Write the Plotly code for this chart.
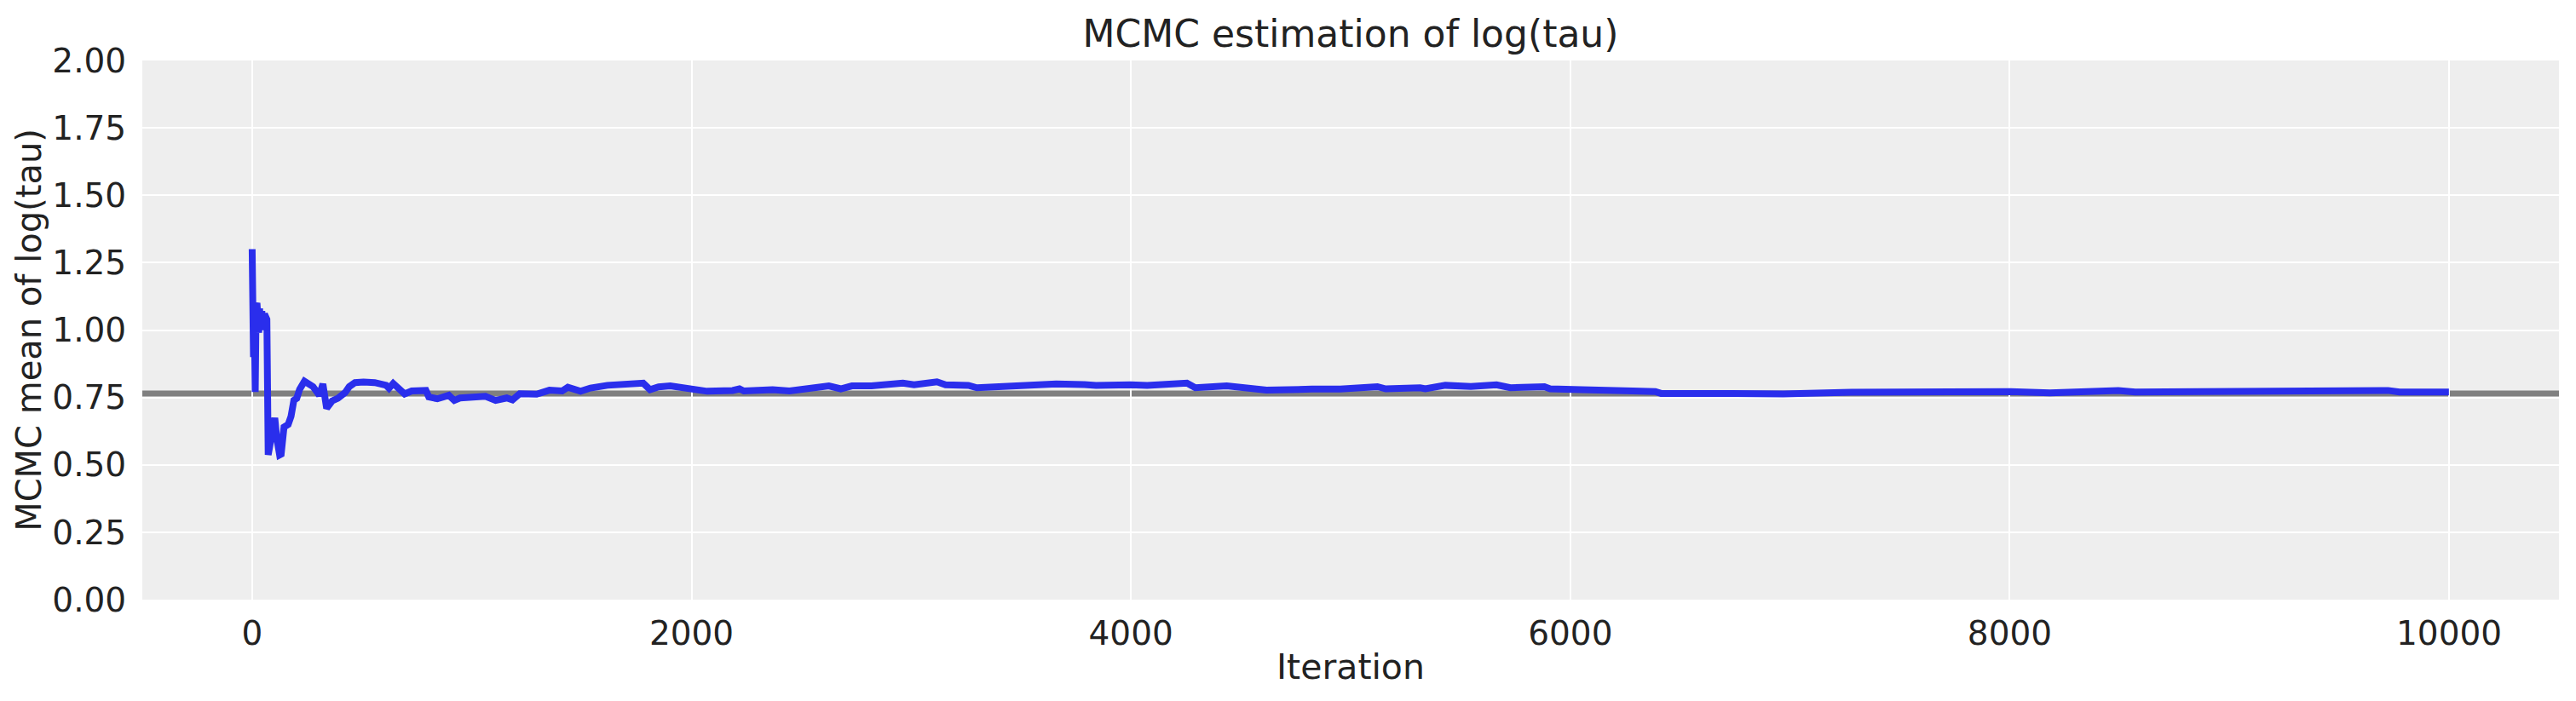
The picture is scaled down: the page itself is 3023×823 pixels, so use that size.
import plotly.graph_objects as go

# Running MCMC mean of log(tau)
iterations = [0, 2, 4, 6, 9, 14, 18, 22, 26, 30, 34, 38, 44, 50, 56, 62, 67,
              73, 80, 87, 96, 103, 112, 125, 132, 145, 164, 177, 190, 203, 216,
              238, 261, 277, 306, 322, 339, 364, 390, 423, 442, 468, 507, 558,
              610, 623, 642, 662, 694, 726, 791, 804, 843, 895, 920, 946,
              1062, 1108, 1159, 1185, 1218, 1295, 1353, 1411, 1437, 1495, 1540,
              1617, 1722, 1780, 1811, 1850, 1903, 1981, 2020, 2071, 2187, 2218,
              2238, 2369, 2446, 2536, 2625, 2679, 2730, 2819, 2885, 2962, 3013,
              3117, 3156, 3260, 3299, 3428, 3531, 3660, 3788, 3841, 3997, 4074,
              4255, 4293, 4436, 4475, 4552, 4617, 4824, 4953, 5122, 5160, 5316,
              5340, 5431, 5547, 5664, 5727, 5882, 5908, 6051, 6154, 6283, 6387,
              6413, 6634, 6762, 6969, 7279, 7460, 7693, 8003, 8183, 8494, 8571,
              8701, 9115, 9425, 9580, 9722, 9774, 9999]
running_mean = [1.30, 0.92, 1.12, 0.90, 1.08, 0.77, 1.09, 1.10, 1.05, 0.99, 1.08,
                1.00, 1.07, 1.00, 1.06, 1.04, 1.04,
                0.537, 0.58, 0.62, 0.66, 0.674, 0.60, 0.537, 0.54, 0.64, 0.65,
                0.68, 0.74, 0.747, 0.78, 0.81, 0.80, 0.79, 0.758, 0.80, 0.71,
                0.737, 0.747, 0.768, 0.79, 0.805, 0.807, 0.805, 0.795, 0.784,
                0.802, 0.79, 0.763, 0.774, 0.776, 0.752, 0.745, 0.758, 0.739,
                0.748,
                0.754, 0.739, 0.748, 0.741, 0.764, 0.762, 0.777, 0.774, 0.788,
                0.773, 0.785, 0.795, 0.797, 0.803, 0.779, 0.789, 0.793, 0.786,
                0.777, 0.773, 0.776, 0.782, 0.774, 0.779, 0.774, 0.786, 0.793,
                0.782, 0.793, 0.793, 0.800, 0.803, 0.797, 0.808, 0.797, 0.795,
                0.786, 0.791, 0.800, 0.800, 0.798, 0.795, 0.797, 0.795, 0.803,
                0.786, 0.793, 0.790, 0.779, 0.777, 0.781, 0.781, 0.790, 0.782,
                0.786, 0.782, 0.795, 0.791, 0.797, 0.786, 0.790, 0.782, 0.779,
                0.774, 0.774, 0.772, 0.765, 0.765, 0.764, 0.763, 0.769, 0.770,
                0.774, 0.772, 0.767, 0.776, 0.770, 0.771, 0.776, 0.772, 0.776,
                0.776, 0.770, 0.770]
reference_value = 0.765

x_ticks = [0, 2000, 4000, 6000, 8000, 10000]
x_tick_labels = ["0", "2000", "4000", "6000", "8000", "10000"]
y_ticks = [0.0, 0.25, 0.5, 0.75, 1.0, 1.25, 1.5, 1.75, 2.0]

FONT = "DejaVu Sans"
TEXT = "#222222"

fig = go.Figure()
fig.add_trace(go.Scatter(x=iterations, y=running_mean, mode="lines",
                         line=dict(color="#2a2eec", width=8), showlegend=False))
fig.add_hline(y=reference_value, line=dict(color="#808080", width=7), layer="below")

fig.update_layout(
    width=3023, height=823,
    margin=dict(l=167, r=20, t=71, b=119),
    paper_bgcolor="white", plot_bgcolor="#eeeeee",
    font=dict(family=FONT, color=TEXT, size=39),
    title=dict(text="MCMC estimation of log(tau)", x=0.5, xref="paper",
               y=1 - 40 / 823, yref="container", yanchor="middle", xanchor="center",
               font=dict(size=44, family=FONT, color=TEXT)),
    xaxis=dict(range=[-500, 10500], tickvals=x_ticks, ticktext=x_tick_labels,
               showgrid=True, gridcolor="white", gridwidth=2, zeroline=False,
               showline=False, ticks="outside", ticklen=5,
               tickcolor="rgba(0,0,0,0)", tickfont=dict(size=39),
               title=dict(text="Iteration", font=dict(size=41), standoff=3)),
    yaxis=dict(range=[0, 2], tickvals=y_ticks, tickformat=".2f", showgrid=True,
               gridcolor="white", gridwidth=2, zeroline=False, showline=False,
               ticks="outside", ticklen=10, tickcolor="rgba(0,0,0,0)",
               tickfont=dict(size=39),
               title=dict(text="MCMC mean of log(tau)", font=dict(size=40), standoff=0)),
)

fig.write_html("out.html")
